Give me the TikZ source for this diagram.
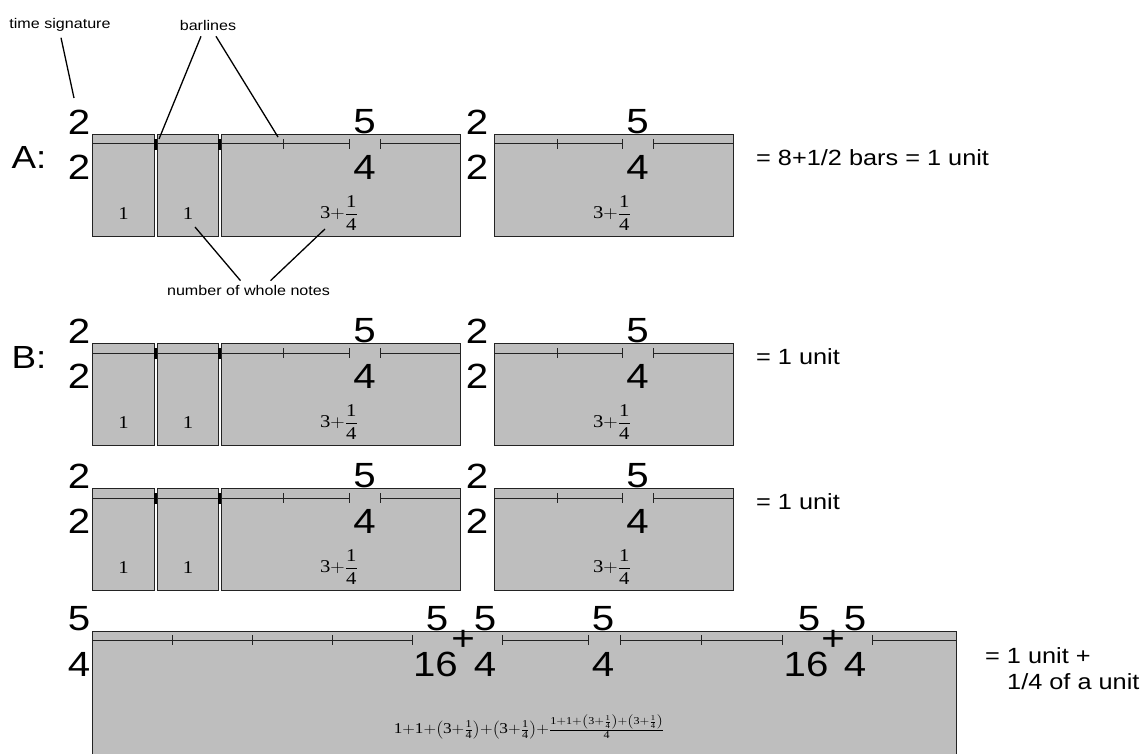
\documentclass[tikz,border=0pt]{standalone}
\usepackage{fontspec}
\usepackage{graphicx}
\setmainfont{Liberation Serif}
\setsansfont{Liberation Sans}
\definecolor{barfill}{RGB}{190,190,190}
\definecolor{barline}{RGB}{35,35,35}
\newcommand\hs[1]{\scalebox{1.15}[1]{#1}}
\newcommand\qfr{{\left(3{+}\frac{1}{4}\right)}}
\tikzset{
  bar/.style={draw=barline, fill=barfill, line width=0.9pt},
  staffline/.style={draw=barline, line width=1pt},
  tickmark/.style={draw=barline, line width=1pt},
  thicktick/.style={draw=black, line width=3pt},
  tsig/.style={inner sep=0pt, font=\sffamily\fontsize{35}{35}\selectfont},
  rowlbl/.style={inner sep=0pt, font=\sffamily\fontsize{32}{32}\selectfont},
  eqlbl/.style={inner sep=0pt, anchor=base west, font=\sffamily\fontsize{22}{25}\selectfont},
  smalllbl/.style={inner sep=0pt, font=\sffamily\fontsize{14}{14}\selectfont},
  notecount/.style={inner sep=0pt, font=\rmfamily\fontsize{18}{18}\selectfont},
  formula/.style={inner sep=0pt, font=\rmfamily\fontsize{15}{15}\selectfont},
  pointer/.style={draw=black, line width=1.3pt},
}
\newcommand\abrow{%
  \draw[bar] (92.5,134) rectangle (154.5,236);
  \draw[bar] (157,134) rectangle (218.5,236);
  \draw[bar] (221,134) rectangle (460,236);
  \draw[bar] (494,134) rectangle (733,236);
  \draw[staffline] (92.5,144) -- (349,144);
  \draw[staffline] (380,144) -- (460,144);
  \draw[staffline] (494,144) -- (622,144);
  \draw[staffline] (653,144) -- (733,144);
  \foreach \x in {92.5,283,349,380,460,494,557,622,653,733} {\draw[tickmark] (\x,139) -- (\x,149);}
  \foreach \x in {155.7,219.8} {\draw[thicktick] (\x,139) -- (\x,150);}
  \node[tsig] (t1u) at (79,122) {\hs{2}};
  \node[tsig] (t1d) at (79,167) {\hs{2}};
  \node[tsig] (t2u) at (364.5,122) {\hs{5}};
  \node[tsig] (t2d) at (364.5,167) {\hs{4}};
  \node[tsig] (t3u) at (477,122) {\hs{2}};
  \node[tsig] (t3d) at (477,167) {\hs{2}};
  \node[tsig] (t4u) at (637.5,122) {\hs{5}};
  \node[tsig] (t4d) at (637.5,167) {\hs{4}};
  \node[notecount] (n1) at (123.5,214) {\hs{1}};
  \node[notecount] (n2) at (188,214) {\hs{1}};
  \node[notecount] (n3) at (339,213) {\hs{$\mathrm{3{+}{\displaystyle\frac{1}{4}}}$}};
  \node[notecount] (n4) at (612,213) {\hs{$\mathrm{3{+}{\displaystyle\frac{1}{4}}}$}};
}
\begin{document}
\begin{tikzpicture}[x=1pt, y=-1pt]
  \clip (0,0) rectangle (1146,754);
  \fill[white] (0,0) rectangle (1146,754);
  % Row A
  \abrow
  \node[rowlbl] (rowA) at (29,157) {\hs{A:}};
  \node[eqlbl] (eqA) at (756,166) {\hs{= 8+1/2 bars = 1 unit}};
  % annotations
  \node[smalllbl] (tslabel) at (60,25) {\hs{time signature}};
  \node[smalllbl] (bllabel) at (208,25) {\hs{barlines}};
  \node[smalllbl] (nwlabel) at (248.5,290) {\hs{number of whole notes}};
  \coordinate (tsend) at (74,98);
  \coordinate (blend1) at (159,139);
  \coordinate (blend2) at (278,137);
  \coordinate (nwend1) at (195,227);
  \coordinate (nwend2) at (325,229);
  \draw[pointer] ([xshift=1pt,yshift=-6pt]tslabel.south) -- (tsend);
  \draw[pointer] ([xshift=-7pt,yshift=-6pt]bllabel.south) -- (blend1);
  \draw[pointer] ([xshift=8pt,yshift=-6pt]bllabel.south) -- (blend2);
  \draw[pointer] ([xshift=-8pt,yshift=4pt]nwlabel.north) -- (nwend1);
  \draw[pointer] ([xshift=22pt,yshift=4pt]nwlabel.north) -- (nwend2);
  % Row B1
  \begin{scope}[yshift=-209pt, name prefix=b1-]
    \abrow
  \end{scope}
  \node[rowlbl] (rowB) at (29,357) {\hs{B:}};
  \node[eqlbl] (eqB1) at (756,364) {\hs{= 1 unit}};
  % Row B2
  \begin{scope}[yshift=-354pt, name prefix=b2-]
    \abrow
  \end{scope}
  \node[eqlbl] (eqB2) at (756,509) {\hs{= 1 unit}};
  % Row C
  \draw[bar] (92.3,631) rectangle (956,770);
  \draw[staffline] (92.3,640) -- (412,640);
  \draw[staffline] (502,640) -- (588,640);
  \draw[staffline] (620,640) -- (782,640);
  \draw[staffline] (872,640) -- (956,640);
  \foreach \x in {92.3,172,252,332,412,502,588,620,701,782,872,956} {\draw[tickmark] (\x,635) -- (\x,645);}
  \node[tsig] (c1u) at (79,619) {\hs{5}};
  \node[tsig] (c1d) at (79,664) {\hs{4}};
  \node[tsig] (c2u) at (437,619) {\hs{5}};
  \node[tsig] (c2d) at (435.5,664) {\hs{16}};
  \node[tsig] (c2p) at (463,640) {\hs{+}};
  \node[tsig] (c3u) at (485,619) {\hs{5}};
  \node[tsig] (c3d) at (485,664) {\hs{4}};
  \node[tsig] (c4u) at (603,619) {\hs{5}};
  \node[tsig] (c4d) at (603,664) {\hs{4}};
  \node[tsig] (c5u) at (809,619) {\hs{5}};
  \node[tsig] (c5d) at (806,664) {\hs{16}};
  \node[tsig] (c5p) at (833,640) {\hs{+}};
  \node[tsig] (c6u) at (855,619) {\hs{5}};
  \node[tsig] (c6d) at (855,664) {\hs{4}};
  \node[formula] (sum) at (529,727) {\hs{$\mathrm{1{+}1{+}\qfr{+}\qfr{+}\frac{1{+}1{+}\qfr{+}\qfr}{4}}$}};
  \node[eqlbl] (eqC1) at (985,663) {\hs{= 1 unit +}};
  \node[eqlbl] (eqC2) at (1007,689) {\hs{1/4 of a unit}};
\end{tikzpicture}
\end{document}
